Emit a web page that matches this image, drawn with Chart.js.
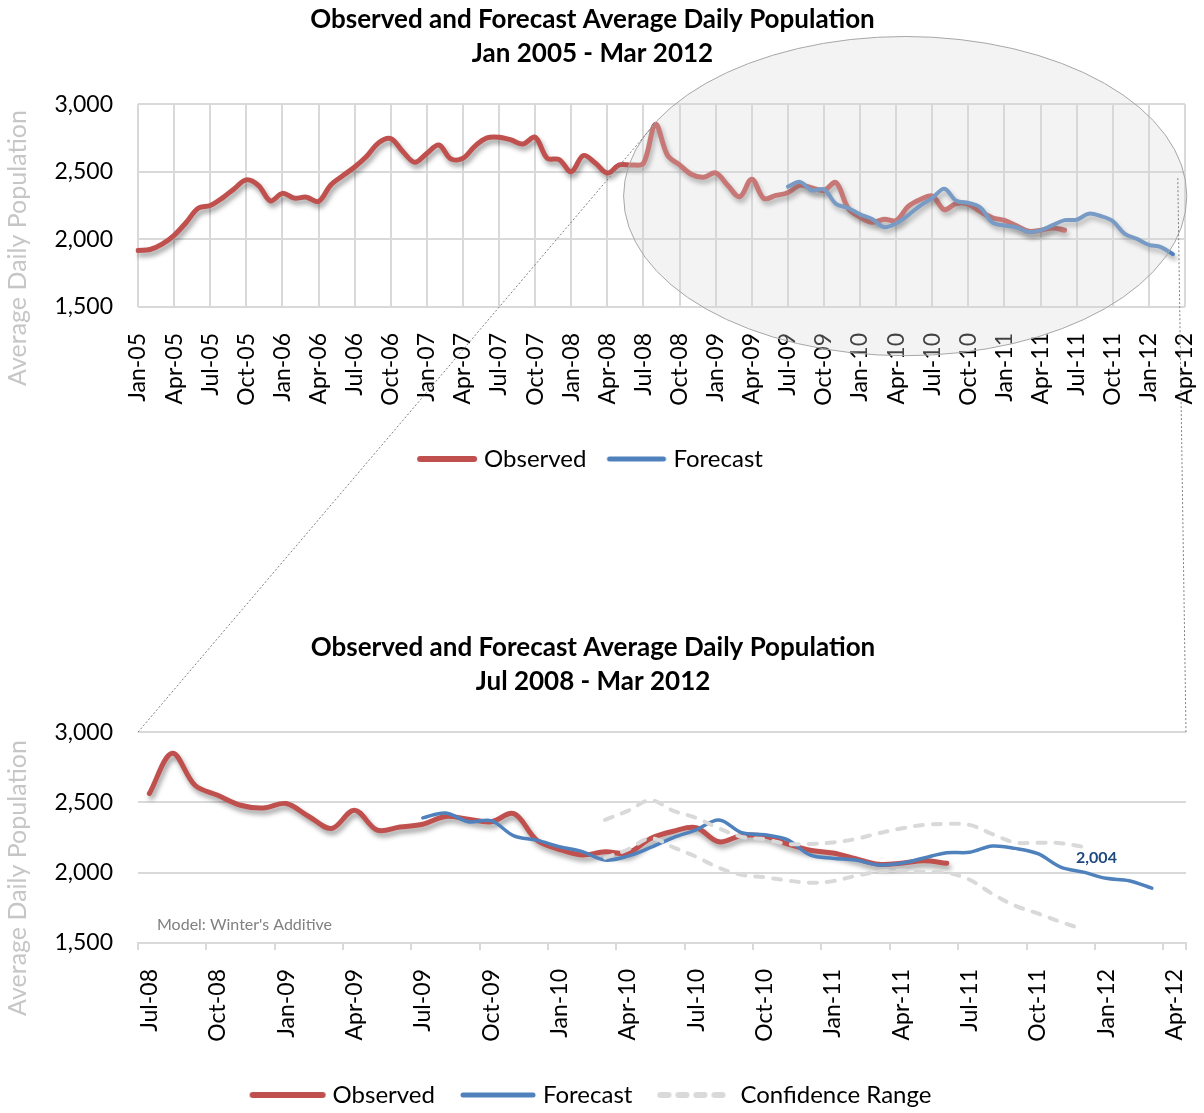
<!DOCTYPE html>
<html>
<head>
<meta charset="utf-8">
<script src="https://cdn.jsdelivr.net/npm/chart.js@4.4.1/dist/chart.umd.min.js"></script>
<style>
  body { margin: 0; background: #fff; }
  #page { position: relative; width: 1204px; height: 1113px; overflow: hidden; }
  #topChart { position: absolute; left: 0; top: 0; }
  #bottomChart { position: absolute; left: 0; top: 614px; }
  #overlay { position: absolute; left: 0; top: 0; pointer-events: none; }
</style>
</head>
<body>
<div id="page">
  <canvas id="topChart" width="1204" height="490"></canvas>
  <canvas id="bottomChart" width="1204" height="499"></canvas>
  <canvas id="overlay" width="1204" height="1113"></canvas>
</div>
<script>
// ---- Data ----
const MONTH_NAMES = ['Jan', 'Feb', 'Mar', 'Apr', 'May', 'Jun', 'Jul', 'Aug', 'Sep', 'Oct', 'Nov', 'Dec'];
const FIRST_YEAR = 2005;          // month index 0 = Jan-05
const TOP_MONTHS = 88;            // Jan-05 .. Apr-12
const ZOOM_START = 42;            // Jul-08

// Observed, Jan-05 .. Jun-11
const observed = [
  1918, 1925, 1965, 2030, 2125, 2230, 2250, 2305, 2375, 2440, 2400, 2285,
  2340, 2305, 2312, 2280, 2400, 2470, 2535, 2615, 2715, 2745, 2650, 2570,
  2636, 2698, 2595, 2600, 2690, 2750, 2755, 2735, 2705, 2755, 2600, 2590,
  2500, 2620, 2565, 2490, 2550, 2550, 2563, 2850, 2622, 2551, 2480, 2460,
  2492, 2400, 2315, 2445, 2303, 2325, 2345, 2400, 2380, 2362, 2420, 2232,
  2165, 2126, 2149, 2140, 2244, 2295, 2320, 2220, 2265, 2260, 2205, 2160,
  2140, 2100, 2060, 2067, 2085, 2067
];

// Forecast, Jul-09 .. Mar-12
const forecastStart = 54;
const forecast = [
  2390, 2425, 2362, 2370, 2262, 2232, 2185, 2150, 2090, 2118, 2180, 2250,
  2305, 2375, 2285, 2270, 2235, 2126, 2102, 2090, 2055, 2067, 2105, 2142,
  2145, 2190, 2173, 2135, 2040, 2004, 1960, 1943, 1890
];

// Confidence range, Mar-10 .. Dec-11
const confStart = 62;
const confUpper = [
  2376, 2440, 2515, 2440, 2390, 2315, 2255, 2238, 2205, 2205, 2215, 2240,
  2280, 2315, 2340, 2347, 2340, 2275, 2215, 2213, 2210, 2184
];
const confLower = [
  2106, 2165, 2245, 2180, 2113, 2035, 1985, 1968, 1945, 1929, 1940, 1978,
  2007, 2015, 2005, 2000, 1950, 1850, 1765, 1710, 1650, 1596
];

const labelledMonth = 83;         // Dec-11 forecast gets a data label
const yMin = 1500, yMax = 3000, yStep = 500;

// ---- Helpers ----
const monthLabel = i => MONTH_NAMES[i % 12] + '-' + String((FIRST_YEAR + Math.floor(i / 12)) % 100).padStart(2, '0');
const topLabels = Array.from({ length: TOP_MONTHS }, (_, i) => monthLabel(i));
const bottomLabels = topLabels.slice(ZOOM_START);

// place a series that starts at month `start` onto a label axis starting at `axisStart`
const place = (values, start, axisStart, len) => {
  const out = new Array(len).fill(null);
  values.forEach((v, k) => {
    const idx = start + k - axisStart;
    if (idx >= 0 && idx < len) out[idx] = v;
  });
  return out;
};

const RED = '#c0504d';
const BLUE = '#4f81bd';
const GRID = '#d9d9d9';
const FONT = 'Lato, "Open Sans", sans-serif';

// legend sample images (a little wider than the legend box so the text sits close)
const swatch = (len, color, width, dash) => {
  const c = document.createElement('canvas');
  c.width = len + 8; c.height = 10;
  const g = c.getContext('2d');
  g.strokeStyle = color;
  g.lineWidth = width;
  g.lineCap = 'round';
  if (dash) g.setLineDash(dash);
  g.beginPath();
  g.moveTo(4, 5);
  g.lineTo(len + 4, 5);
  g.stroke();
  return c;
};
const SW_TOP = 54, SW_BOTTOM = 70;

// ---- Plugins ----
const shadowPlugin = {
  id: 'lineShadow',
  beforeDatasetDraw(chart, args) {
    if (!chart.data.datasets[args.index].shadow) return;
    const ctx = chart.ctx;
    ctx.save();
    ctx.shadowColor = 'rgba(0,0,0,0.38)';
    ctx.shadowBlur = 5;
    ctx.shadowOffsetX = 2;
    ctx.shadowOffsetY = 4;
  },
  afterDatasetDraw(chart, args) {
    if (chart.data.datasets[args.index].shadow) chart.ctx.restore();
  }
};

const decoPlugin = {
  id: 'deco',
  afterDraw(chart, args, opts) {
    const ctx = chart.ctx;
    const { x, y } = chart.scales;
    ctx.save();
    // side axis title
    if (opts.sideTitle) {
      ctx.translate(opts.sideTitle.x, opts.sideTitle.y);
      ctx.rotate(-Math.PI / 2);
      ctx.font = '25px ' + FONT;
      ctx.fillStyle = '#c6c6c6';
      ctx.textAlign = 'center';
      ctx.textBaseline = 'middle';
      ctx.fillText(opts.sideTitle.text, 0, 0);
      ctx.setTransform(1, 0, 0, 1, 0, 0);
    }
    // note text
    if (opts.note) {
      ctx.font = '16px ' + FONT;
      ctx.fillStyle = '#808080';
      ctx.textAlign = 'left';
      ctx.textBaseline = 'middle';
      ctx.fillText(opts.note, chart.chartArea.left + 19, chart.chartArea.bottom - 18);
    }
    // data label
    if (opts.dataLabel) {
      const meta = chart.getDatasetMeta(opts.dataLabel.dataset);
      const pt = meta.data[opts.dataLabel.index];
      const val = chart.data.datasets[opts.dataLabel.dataset].data[opts.dataLabel.index];
      ctx.font = 'bold 16px ' + FONT;
      ctx.fillStyle = '#1f497d';
      ctx.textAlign = 'center';
      ctx.textBaseline = 'middle';
      ctx.fillText(val.toLocaleString('en-US'), pt.x + 13, pt.y - 14);
    }
    // zoom ellipse
    if (opts.ellipse) {
      const e = opts.ellipse;
      const cx = x.getPixelForValue(e.cx);
      const cy = y.getPixelForValue(e.cy);
      const rx = x.getPixelForValue(e.cx + e.rx) - cx;
      const ry = y.getPixelForValue(e.cy - e.ry) - cy;
      ctx.beginPath();
      ctx.ellipse(cx, cy, rx, ry, 0, 0, Math.PI * 2);
      ctx.fillStyle = 'rgba(215,215,215,0.3)';
      ctx.fill();
      ctx.strokeStyle = '#a6a6a6';
      ctx.lineWidth = 1;
      ctx.stroke();
    }
    ctx.restore();
  }
};

const legendLabels = (padding, boxW) => ({
  usePointStyle: true,
  pointStyleWidth: boxW,
  padding: padding,
  color: '#000',
  font: { family: FONT, size: 24 },
  filter: item => item.text !== '',
  sort: (a, b) => a.datasetIndex - b.datasetIndex
});

const tickNum = v => v.toLocaleString('en-US');
const noSidePadding = s => { s.paddingLeft = 0; s.paddingRight = 0; };

// ---- Top chart ----
const topChart = new Chart(document.getElementById('topChart'), {
  type: 'line',
  data: {
    labels: topLabels,
    datasets: [
      {
        label: 'Observed', data: place(observed, 0, 0, TOP_MONTHS), pointStyle: swatch(SW_TOP, RED, 6),
        borderColor: RED, backgroundColor: RED, borderWidth: 5, shadow: true, order: 2
      },
      {
        label: 'Forecast', data: place(forecast, forecastStart, 0, TOP_MONTHS), pointStyle: swatch(SW_TOP, BLUE, 5),
        borderColor: BLUE, backgroundColor: BLUE, borderWidth: 4, shadow: true, order: 1
      }
    ]
  },
  options: {
    responsive: false,
    animation: false,
    layout: { padding: { top: 3, right: 19, bottom: 9, left: 0 } },
    elements: {
      point: { radius: 0 },
      line: { tension: 0.35, borderCapStyle: 'round', borderJoinStyle: 'round' }
    },
    plugins: {
      title: {
        display: true,
        text: ['Observed and Forecast Average Daily Population', 'Jan 2005 - Mar 2012'],
        color: '#000',
        font: { family: FONT, size: 26, weight: 'bold', lineHeight: 1.31 },
        padding: { top: 0, bottom: 33 }
      },
      legend: { position: 'bottom', labels: legendLabels(25, SW_TOP - 4) },
      tooltip: { enabled: false },
      deco: {
        sideTitle: { text: 'Average Daily Population', x: 18, y: 248 },
        ellipse: { cx: 63.75, cy: 2320, rx: 23.4, ry: 1180 }
      }
    },
    scales: {
      x: {
        offset: false,
        grid: { color: c => (c.index % 3 === 0 ? GRID : 'transparent'), lineWidth: 2, drawTicks: false },
        border: { display: false },
        ticks: {
          autoSkip: false, minRotation: 90, maxRotation: 90, padding: 26,
          color: '#000', font: { family: FONT, size: 23 },
          callback: (v, i) => (i % 3 === 0 ? topLabels[i] : '')
        },
        afterFit: s => { s.height = 115; noSidePadding(s); }
      },
      y: {
        min: yMin, max: yMax,
        grid: { color: GRID, lineWidth: 2, drawTicks: false },
        border: { display: false },
        ticks: { stepSize: yStep, padding: 25, color: '#000', font: { family: FONT, size: 23 }, callback: tickNum },
        afterFit: s => { s.width = 138; }
      }
    }
  },
  plugins: [shadowPlugin, decoPlugin]
});

// ---- Bottom chart ----
const ZLEN = bottomLabels.length;
const greySwatch = swatch(SW_BOTTOM, GRID, 6, [8, 10]);
const bottomChart = new Chart(document.getElementById('bottomChart'), {
  type: 'line',
  data: {
    labels: bottomLabels,
    datasets: [
      {
        label: 'Observed', data: place(observed, 0, ZOOM_START, ZLEN), pointStyle: swatch(SW_BOTTOM, RED, 6),
        borderColor: RED, backgroundColor: RED, borderWidth: 5, shadow: true, order: 3
      },
      {
        label: 'Forecast', data: place(forecast, forecastStart, ZOOM_START, ZLEN), pointStyle: swatch(SW_BOTTOM, BLUE, 5),
        borderColor: BLUE, backgroundColor: BLUE, borderWidth: 3.5, order: 2
      },
      {
        label: 'Confidence Range', data: place(confUpper, confStart, ZOOM_START, ZLEN), pointStyle: greySwatch,
        borderColor: GRID, backgroundColor: GRID, borderWidth: 4, borderDash: [8, 10], order: 1
      },
      {
        label: '', data: place(confLower, confStart, ZOOM_START, ZLEN), pointStyle: greySwatch,
        borderColor: GRID, backgroundColor: GRID, borderWidth: 4, borderDash: [8, 10], order: 1
      }
    ]
  },
  options: {
    responsive: false,
    animation: false,
    layout: { padding: { top: 17, right: 18, bottom: -4, left: 0 } },
    elements: {
      point: { radius: 0 },
      line: { tension: 0.35, borderCapStyle: 'round', borderJoinStyle: 'round' }
    },
    plugins: {
      title: {
        display: true,
        text: ['Observed and Forecast Average Daily Population', 'Jul 2008 - Mar 2012'],
        color: '#000',
        font: { family: FONT, size: 26, weight: 'bold', lineHeight: 1.31 },
        padding: { top: 0, bottom: 33 }
      },
      legend: { position: 'bottom', labels: legendLabels(30, SW_BOTTOM - 4) },
      tooltip: { enabled: false },
      deco: {
        sideTitle: { text: 'Average Daily Population', x: 18, y: 264 },
        note: "Model: Winter's Additive",
        dataLabel: { dataset: 1, index: labelledMonth - ZOOM_START }
      }
    },
    scales: {
      x: {
        offset: true,
        grid: {
          offset: true, drawOnChartArea: false, tickLength: 7, lineWidth: 2,
          color: c => (c.index === undefined || c.index % 3 === 0 ? GRID : 'transparent')
        },
        border: { display: true, color: GRID, width: 2 },
        ticks: {
          autoSkip: false, minRotation: 90, maxRotation: 90, padding: 19,
          color: '#000', font: { family: FONT, size: 23 },
          callback: (v, i) => (i % 3 === 0 ? bottomLabels[i] : '')
        },
        afterFit: s => { s.height = 110; noSidePadding(s); }
      },
      y: {
        min: yMin, max: yMax,
        grid: { color: GRID, lineWidth: 2, drawTicks: false },
        border: { display: false },
        ticks: { stepSize: yStep, padding: 25, color: '#000', font: { family: FONT, size: 23 }, callback: tickNum },
        afterFit: s => { s.width = 138; }
      }
    }
  },
  plugins: [shadowPlugin, decoPlugin]
});

// ---- Dotted connector lines between the two charts ----
const drawConnectors = () => {
  const ov = document.getElementById('overlay').getContext('2d');
  const bottomTop = document.getElementById('bottomChart').offsetTop;
  const ba = bottomChart.chartArea;
  const tx = topChart.scales.x, ty = topChart.scales.y;
  ov.save();
  ov.strokeStyle = '#7f7f7f';
  ov.lineWidth = 1;
  ov.setLineDash([2, 2]);
  ov.beginPath();
  ov.moveTo(ba.left, ba.top + bottomTop);
  ov.lineTo(tx.getPixelForValue(43), ty.getPixelForValue(2860));
  ov.moveTo(ba.right, ba.top + bottomTop);
  ov.lineTo(tx.getPixelForValue(86.4), ty.getPixelForValue(2455));
  ov.stroke();
  ov.restore();
};
drawConnectors();
</script>
</body>
</html>
